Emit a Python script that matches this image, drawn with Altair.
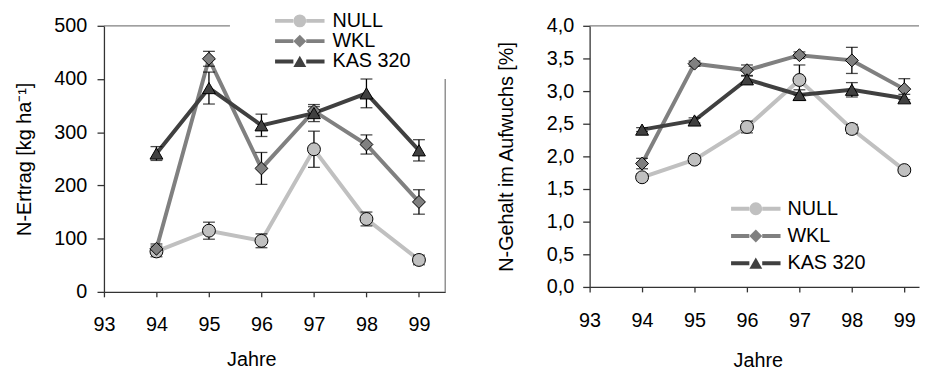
import altair as alt
import pandas as pd

# ---------------- data ----------------
years = [94, 95, 96, 97, 98, 99]
series_names = ["NULL", "WKL", "KAS 320"]
x_ticks = [93, 94, 95, 96, 97, 98, 99]

ertrag_null = [76, 115, 96, 268, 137, 60]
ertrag_null_err = [10, 16, 13, 34, 13, 9]
ertrag_wkl = [81, 438, 232, 340, 277, 169]
ertrag_wkl_err = [9, 14, 30, 8, 18, 23]
ertrag_kas = [260, 383, 313, 336, 373, 266]
ertrag_kas_err = [13, 30, 21, 16, 27, 20]
ertrag_ticks = [0, 100, 200, 300, 400, 500]

gehalt_null = [1.68, 1.95, 2.45, 3.17, 2.42, 1.79]
gehalt_null_err = [0.05, 0.06, 0.09, 0.23, 0.07, 0.04]
gehalt_wkl = [1.89, 3.42, 3.32, 3.55, 3.47, 3.03]
gehalt_wkl_err = [0.08, 0.04, 0.08, 0.05, 0.20, 0.16]
gehalt_kas = [2.41, 2.55, 3.18, 2.94, 3.02, 2.89]
gehalt_kas_err = [0.03, 0.04, 0.05, 0.08, 0.11, 0.06]
gehalt_ticks = [0, 0.5, 1.0, 1.5, 2.0, 2.5, 3.0, 3.5, 4.0]

line_colors = ["#c0c0c0", "#808080", "#404040"]
marker_colors = ["#c0c0c0", "#808080", "#404040"]
marker_shapes = ["circle", "diamond", "triangle-up"]

FONT = "Liberation Sans"
AXIS_COLOR = "#333333"
FRAME_COLOR = "#808080"
FS = 20


def build_df(vals, errs):
    rows = []
    for name, v, e in zip(series_names, vals, errs):
        for yr, vv, ee in zip(years, v, e):
            rows.append(dict(year=yr, series=name, marker=name, value=vv,
                             lo=vv - ee, hi=vv + ee))
    return pd.DataFrame(rows)


def panel(df, width, height, xmax, ydom, yticks, ytitle, ylabelexpr, ytitle_x,
          ylabel_pad, xlabel_pad, xtitle_x, xtitle_y, line_leg, mark_leg, frame_segments):
    xscale = alt.Scale(domain=[93, xmax], nice=False, zero=False)
    xaxis = alt.Axis(values=x_ticks, format="d", title="Jahre", grid=False, tickSize=5,
                     labelPadding=xlabel_pad, labelFlush=False, titleX=xtitle_x,
                     titleY=xtitle_y, titleBaseline="middle", titleAlign="center")
    yscale = alt.Scale(domain=ydom, nice=False, zero=True)
    yaxis = alt.Axis(values=yticks, labelExpr=ylabelexpr, title=ytitle, grid=False,
                     tickSize=7, labelPadding=ylabel_pad, labelFlush=False,
                     titleX=ytitle_x, titleBaseline="middle")
    x = alt.X("year:Q", scale=xscale, axis=xaxis)
    base = alt.Chart(df)
    layers = []
    one = pd.DataFrame({"k": [0]})
    # partial plot frame (the rest of the frame is hidden behind the legend box)
    for (fx, fx2, fy, fy2) in frame_segments:
        enc = dict(x=alt.datum(fx, scale=xscale, axis=xaxis),
                   y=alt.datum(fy, scale=yscale, axis=yaxis))
        if fx2 is not None:
            enc["x2"] = alt.datum(fx2)
        if fy2 is not None:
            enc["y2"] = alt.datum(fy2)
        layers.append(alt.Chart(one).mark_rule(color=FRAME_COLOR, strokeWidth=1.3).encode(**enc))
    lines = base.mark_line(strokeWidth=4).encode(
        x=x,
        y=alt.Y("value:Q", scale=yscale, axis=yaxis),
        stroke=alt.Stroke("series:N", sort=series_names,
                          scale=alt.Scale(range=line_colors),
                          legend=line_leg),
    )
    rules = base.mark_rule(color="black", strokeWidth=1.3).encode(
        x=x, y=alt.Y("lo:Q", scale=yscale, axis=yaxis), y2="hi:Q")
    caps_lo = base.mark_tick(orient="horizontal", size=12, thickness=1.3, color="black").encode(
        x=x, y=alt.Y("lo:Q", scale=yscale, axis=yaxis))
    caps_hi = base.mark_tick(orient="horizontal", size=12, thickness=1.3, color="black").encode(
        x=x, y=alt.Y("hi:Q", scale=yscale, axis=yaxis))
    points = base.mark_point(filled=True, size=170, stroke="black", strokeWidth=1,
                             opacity=1, fillOpacity=1).encode(
        x=x,
        y=alt.Y("value:Q", scale=yscale, axis=yaxis),
        fill=alt.Fill("marker:N", sort=series_names,
                      scale=alt.Scale(domain=series_names, range=marker_colors),
                      legend=mark_leg),
        shape=alt.Shape("marker:N", sort=series_names,
                        scale=alt.Scale(domain=series_names, range=marker_shapes),
                        legend=mark_leg),
    )
    layers += [lines, rules, caps_lo, caps_hi, points]
    return alt.layer(*layers).properties(width=width, height=height)


def line_legend(lx, ly, rowpad, laboff):
    return alt.Legend(orient="none", legendX=lx, legendY=ly, title=None,
                      symbolType="M-5,0H-1.3M1.3,0H5", symbolSize=100,
                      symbolStrokeWidth=4, labelFontSize=FS, labelFont=FONT,
                      labelColor="black", labelOffset=laboff, rowPadding=rowpad, padding=0)


def mark_legend(lx, ly, rowpad, laboff):
    return alt.Legend(orient="none", legendX=lx, legendY=ly, title=None, symbolSize=170,
                      symbolStrokeColor="black", symbolStrokeWidth=1.2, symbolOpacity=1,
                      labelFontSize=FS, labelFont=FONT, labelOpacity=0, labelOffset=laboff,
                      rowPadding=rowpad, padding=0)


df_ertrag = build_df([ertrag_null, ertrag_wkl, ertrag_kas],
                     [ertrag_null_err, ertrag_wkl_err, ertrag_kas_err])
df_gehalt = build_df([gehalt_null, gehalt_wkl, gehalt_kas],
                     [gehalt_null_err, gehalt_wkl_err, gehalt_kas_err])

left = panel(df_ertrag, 345, 269, 99.5, [0, 500], ertrag_ticks,
             "N-Ertrag [kg ha\u207b\u00b9]", "format(datum.value, 'd')", -80,
             10.5, 18, 149, 68,
             line_legend(188, -15, 0.5, 23),
             mark_legend(188, -15, 0.5, 23),
             [(93, 95.4, 500, None), (99.5, None, 0, 400)])

right = panel(df_gehalt, 333, 264, 99.28, [0, 4], gehalt_ticks,
              "N-Gehalt im Aufwuchs [%]",
              "replace(format(datum.value, '.1f'), '.', ',')", -84,
              9, 19, 170, 74,
              line_legend(158, 175, 7.5, 22),
              mark_legend(158, 175, 7.5, 22),
              [(93, 99.28, 4, None)])

chart = alt.hconcat(left, right, spacing=50).resolve_scale(
    stroke="independent", fill="independent", shape="independent"
).resolve_legend(
    stroke="independent", fill="independent", shape="independent"
).properties(
    padding={"left": 6, "top": 1, "right": 0, "bottom": 0}
).configure(font=FONT).configure_view(stroke=None).configure_axis(
    domainColor=AXIS_COLOR, tickColor=AXIS_COLOR, domainWidth=1.3, tickWidth=1.3,
    labelFont=FONT, labelFontSize=FS, labelColor="black", titleFont=FONT,
    titleFontSize=FS, titleColor="black", titleFontWeight="normal"
)

chart.save("out.html", embed_options={"renderer": "svg", "actions": False})
